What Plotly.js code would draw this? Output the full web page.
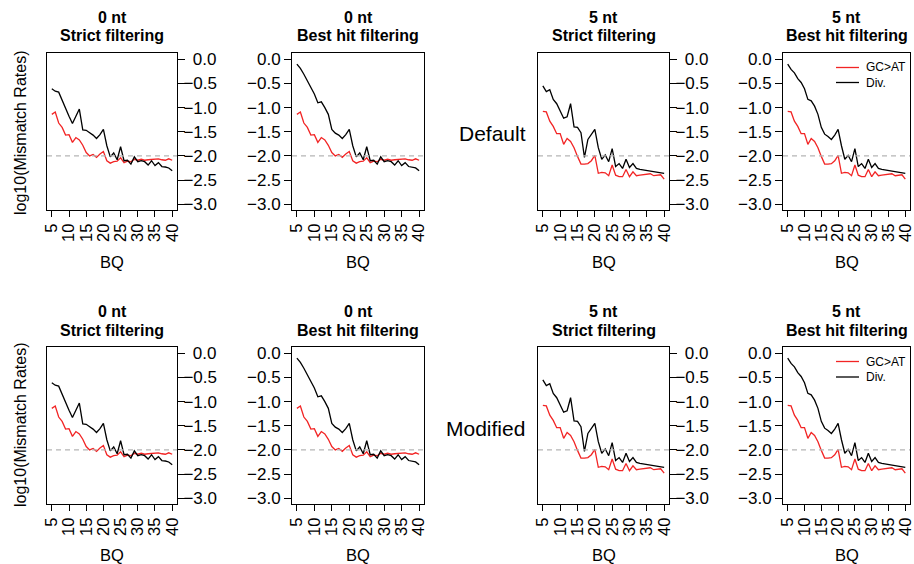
<!DOCTYPE html>
<html><head><meta charset="utf-8">
<script src="https://cdn.plot.ly/plotly-3.0.1.min.js"></script>
<style>html,body{margin:0;padding:0;background:#fff}#chart{width:914px;height:564px}</style>
</head><body><div id="chart"></div>
<script>
// ---- data ----
const bq = [5,6,7,8,9,10,11,12,13,14,15,16,17,18,19,20,21,22,23,24,25,26,27,28,29,30,31,32,33,34,35,36,37,38,39,40];
const gcAt0 = [-1.14,-1.09,-1.32,-1.41,-1.57,-1.56,-1.72,-1.62,-1.67,-1.78,-1.93,-2.00,-1.97,-2.03,-1.96,-1.91,-2.10,-2.15,-2.12,-2.11,-2.04,-2.14,-2.11,-2.12,-2.07,-2.09,-2.07,-2.09,-2.08,-2.07,-2.07,-2.06,-2.08,-2.09,-2.06,-2.09];
const div0Strict = [-0.61,-0.66,-0.68,-0.86,-1.02,-1.18,-1.33,-1.19,-1.03,-1.46,-1.47,-1.52,-1.57,-1.64,-1.56,-1.45,-1.79,-2.02,-1.94,-2.08,-1.81,-2.10,-2.09,-2.17,-2.02,-2.12,-2.10,-2.12,-2.19,-2.10,-2.20,-2.14,-2.22,-2.23,-2.25,-2.31];
const div0Best = [-0.10,-0.19,-0.31,-0.45,-0.57,-0.72,-0.90,-0.88,-1.00,-1.14,-1.45,-1.53,-1.57,-1.64,-1.56,-1.45,-1.79,-2.02,-1.94,-2.08,-1.81,-2.10,-2.09,-2.17,-2.02,-2.12,-2.10,-2.12,-2.19,-2.10,-2.20,-2.14,-2.22,-2.23,-2.25,-2.31];
const gcAt5 = [-1.08,-1.09,-1.28,-1.39,-1.54,-1.54,-1.76,-1.64,-1.70,-1.83,-2.01,-2.17,-2.17,-2.16,-2.10,-1.99,-2.36,-2.34,-2.35,-2.41,-2.19,-2.40,-2.43,-2.43,-2.28,-2.43,-2.33,-2.41,-2.40,-2.39,-2.38,-2.37,-2.41,-2.40,-2.39,-2.48];
const div5Strict = [-0.55,-0.67,-0.63,-0.83,-0.92,-1.07,-1.22,-1.19,-0.92,-1.40,-1.41,-1.52,-2.03,-1.66,-1.55,-1.45,-1.83,-2.07,-1.98,-2.12,-1.85,-2.22,-2.16,-2.26,-2.07,-2.24,-2.16,-2.26,-2.28,-2.29,-2.30,-2.32,-2.33,-2.33,-2.34,-2.36];
const div5Best = [-0.10,-0.21,-0.28,-0.40,-0.48,-0.61,-0.83,-0.86,-0.97,-1.14,-1.41,-1.55,-1.60,-1.66,-1.57,-1.45,-1.79,-2.07,-1.99,-2.12,-1.85,-2.22,-2.16,-2.26,-2.07,-2.24,-2.16,-2.26,-2.28,-2.29,-2.30,-2.32,-2.33,-2.34,-2.35,-2.36];
const rowLabels = ['Default', 'Modified'];
const panelTops = ['0 nt', '0 nt', '5 nt', '5 nt'];
const panelSubs = ['Strict filtering', 'Best hit filtering', 'Strict filtering', 'Best hit filtering'];
const xTickVals = [5,10,15,20,25,30,35,40];
const yTickVals = [0,-0.5,-1,-1.5,-2,-2.5,-3];
const legendNames = ['GC>AT', 'Div.'];
const threshold = -2;
const yTitle = 'log10(Mismatch Rates)';
const xTitle = 'BQ';

// ---- layout geometry ----
const W = 914, H = 564;
const RED = '#f22424', BLACK = '#000000';
const FONT = 'Liberation Sans, Arial, Helvetica, sans-serif';
const colX = [[47,177],[292,424],[538,669],[783,910]];
const rowY = [[53,210],[347,504]];
const ySide = ['right','left','right','left'];
const panelSeries = [
  {red: gcAt0, black: div0Strict},
  {red: gcAt0, black: div0Best},
  {red: gcAt5, black: div5Strict},
  {red: gcAt5, black: div5Best}
];
const px = x => x / W;
const py = y => 1 - y / H;

const data = [];
const layout = {
  width: W, height: H,
  margin: {l:0, r:0, t:0, b:0},
  paper_bgcolor: '#fff', plot_bgcolor: '#fff',
  font: {family: FONT, color: '#000', size: 15},
  showlegend: false,
  annotations: [], shapes: []
};

function fmt(v, pad) {
  if (v < 0) return '\u2212' + Math.abs(v).toFixed(1);
  return (pad ? '\u2007' : '') + v.toFixed(1);
}

let k = 0;
for (let r = 0; r < 2; r++) {
  for (let c = 0; c < 4; c++) {
    k++;
    const xa = k === 1 ? 'x' : 'x' + k;
    const ya = k === 1 ? 'y' : 'y' + k;
    const s = panelSeries[c];
    data.push({x: bq, y: s.red, xaxis: xa, yaxis: ya, type: 'scatter', mode: 'lines',
      line: {color: RED, width: 1.3}, name: legendNames[0], hoverinfo: 'skip'});
    data.push({x: bq, y: s.black, xaxis: xa, yaxis: ya, type: 'scatter', mode: 'lines',
      line: {color: BLACK, width: 1.3}, name: legendNames[1], hoverinfo: 'skip'});
    layout['xaxis' + (k === 1 ? '' : k)] = {
      domain: [px(colX[c][0]), px(colX[c][1])], anchor: ya,
      range: [3.6, 41.4], tickvals: xTickVals, tickangle: -90,
      ticks: 'outside', ticklen: 6, tickwidth: 1, tickcolor: '#000',
      showline: true, mirror: true, linecolor: '#000', linewidth: 1,
      showgrid: false, zeroline: false, tickfont: {size: 16.5},
      ticklabeloverflow: 'allow'
    };
    const yax = {
      domain: [py(rowY[r][1]), py(rowY[r][0])], anchor: xa, side: ySide[c],
      range: [-3.12, 0.13], tickvals: yTickVals,
      ticktext: yTickVals.map(v => fmt(v, ySide[c] === 'right')),
      ticks: 'outside', ticklen: 7, tickwidth: 1, tickcolor: '#000',
      showline: true, mirror: true, linecolor: '#000', linewidth: 1,
      showgrid: false, zeroline: false, tickfont: {size: 17},
      ticklabeloverflow: 'allow'
    };
    if (ySide[c] === 'right') yax.ticklabelstandoff = -5;
    layout['yaxis' + (k === 1 ? '' : k)] = yax;
    // dashed reference line
    layout.shapes.push({type: 'line', xref: xa + ' domain', yref: ya,
      x0: 0, x1: 1, y0: threshold, y1: threshold,
      line: {color: '#b5b5b5', width: 1.2, dash: '5px,4px'}});
    const cx = (colX[c][0] + colX[c][1]) / 2;
    const t1 = r === 0 ? 17 : 311;
    layout.annotations.push({xref: 'paper', yref: 'paper', x: px(cx), y: py(t1),
      text: '<b>' + panelTops[c] + '</b>', showarrow: false, xanchor: 'center', yanchor: 'middle',
      font: {size: 16}});
    layout.annotations.push({xref: 'paper', yref: 'paper', x: px(cx), y: py(t1 + 19),
      text: '<b>' + panelSubs[c] + '</b>', showarrow: false, xanchor: 'center', yanchor: 'middle',
      font: {size: 16}});
    layout.annotations.push({xref: 'paper', yref: 'paper', x: px(cx), y: py(r === 0 ? 262 : 555),
      text: xTitle, showarrow: false, xanchor: 'center', yanchor: 'middle', font: {size: 16.5}});
  }
  // y title
  layout.annotations.push({xref: 'paper', yref: 'paper', x: px(20), y: py(r === 0 ? 133 : 425),
    text: yTitle, textangle: -90, showarrow: false, xanchor: 'center', yanchor: 'middle',
    font: {size: 16}});
  // row label
  layout.annotations.push({xref: 'paper', yref: 'paper', x: px(r === 0 ? 492 : 485), y: py(r === 0 ? 133 : 428),
    text: rowLabels[r], showarrow: false, xanchor: 'center', yanchor: 'middle', font: {size: 21}});
  // legend in last panel of the row
  const ly = r === 0 ? [67.5, 82.5] : [361.5, 377];
  [RED, BLACK].forEach((col, i) => {
    layout.shapes.push({type: 'line', xref: 'paper', yref: 'paper',
      x0: px(836), x1: px(859), y0: py(ly[i]), y1: py(ly[i]), line: {color: col, width: 1.3}});
    layout.annotations.push({xref: 'paper', yref: 'paper', x: px(864), y: py(ly[i]),
      text: legendNames[i].replace('>', '&gt;'), showarrow: false, xanchor: 'left', yanchor: 'middle',
      font: {size: 12}});
  });
}

Plotly.newPlot('chart', data, layout, {staticPlot: true, displayModeBar: false});
</script>
</body></html>
